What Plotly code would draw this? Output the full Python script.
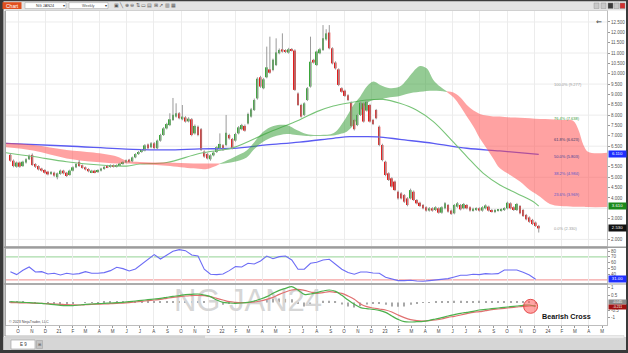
import numpy as np
import pandas as pd
import plotly.graph_objects as go

W, H = 628, 353
def px(x): return x / W
def py(y): return 1 - y / H

# ---------------- DATA ----------------
opens = [6.08, 5.80, 5.51, 5.71, 5.54, 5.71, 5.87, 6.08, 5.64, 5.54,
         5.42, 5.35, 5.27, 5.16, 5.22, 5.00, 5.16, 5.32, 5.22, 5.11,
         5.32, 5.48, 5.74, 5.58, 5.48, 5.40, 5.25, 5.32, 5.25, 5.32,
         5.40, 5.56, 5.50, 5.58, 5.51, 5.58, 5.64, 5.72, 5.85, 5.77,
         5.96, 6.12, 6.22, 6.29, 6.58, 6.45, 6.64, 6.40, 6.77, 7.04,
         7.36, 7.52, 7.77, 7.93, 8.09, 7.80, 7.89, 7.70, 7.80, 7.12,
         7.44, 7.32, 6.24, 6.12, 5.87, 6.06, 6.22, 6.40, 6.54, 6.56,
         7.04, 6.85, 6.77, 7.12, 7.32, 7.48, 7.60, 7.93, 8.25, 8.81,
         9.83, 9.30, 9.83, 10.21, 10.18, 10.42, 10.99, 11.18, 11.12, 11.02,
         11.18, 11.12, 9.05, 8.49, 8.01, 8.73, 9.38, 10.67, 10.42, 10.99,
         11.15, 11.66, 11.99, 11.23, 10.54, 10.21, 9.30, 9.18, 8.96, 8.60,
         7.77, 7.52, 8.01, 8.57, 8.22, 8.49, 7.77, 8.25, 7.44, 6.56,
         5.75, 5.19, 4.95, 4.79, 4.30, 4.22, 4.14, 3.98, 3.98, 4.30,
         3.90, 3.77, 3.66, 3.55, 3.39, 3.50, 3.42, 3.50, 3.29, 3.50,
         3.66, 3.39, 3.26, 3.58, 3.66, 3.50, 3.66, 3.55, 3.39, 3.42,
         3.50, 3.39, 3.50, 3.58, 3.42, 3.32, 3.39, 3.39, 3.42, 3.50,
         3.74, 3.55, 3.42, 3.61, 3.42, 3.18, 3.06, 2.94, 2.81, 2.65]
highs = [6.15, 5.86, 5.76, 5.76, 5.80, 5.92, 6.10, 6.15, 5.68, 5.58,
         5.46, 5.39, 5.31, 5.30, 5.27, 5.23, 5.37, 5.36, 5.26, 5.37,
         5.53, 5.69, 5.83, 5.62, 5.52, 5.44, 5.36, 5.36, 5.39, 5.46,
         5.54, 5.60, 5.62, 5.62, 5.63, 5.70, 5.78, 5.86, 5.89, 6.00,
         6.16, 6.27, 6.37, 6.60, 6.63, 6.70, 6.70, 6.82, 7.10, 7.42,
         7.63, 8.09, 8.83, 8.57, 8.15, 8.49, 7.95, 7.90, 7.86, 7.55,
         7.50, 7.38, 6.30, 6.18, 6.11, 6.25, 6.50, 7.12, 6.60, 8.01,
         7.10, 6.90, 7.15, 7.47, 7.58, 7.55, 8.12, 8.35, 8.80, 9.83,
         9.90, 9.80, 11.31, 11.79, 10.73, 11.71, 11.22, 11.95, 11.18, 11.25,
         11.24, 11.18, 9.10, 8.55, 8.62, 9.36, 11.79, 10.72, 11.12, 11.25,
         12.35, 12.15, 12.35, 11.28, 10.60, 10.26, 9.35, 9.23, 9.01, 8.66,
         7.82, 8.06, 8.66, 8.62, 8.71, 8.55, 7.82, 8.30, 7.50, 6.62,
         5.80, 5.24, 5.00, 4.84, 4.36, 4.28, 4.19, 4.04, 4.45, 4.36,
         3.95, 3.82, 3.71, 3.60, 3.56, 3.55, 3.60, 3.55, 3.60, 3.80,
         3.71, 3.44, 3.71, 3.80, 3.71, 3.76, 3.71, 3.60, 3.53, 3.55,
         3.55, 3.60, 3.69, 3.63, 3.47, 3.47, 3.47, 3.50, 3.55, 3.82,
         3.79, 3.60, 3.76, 3.66, 3.47, 3.23, 3.11, 2.99, 2.86, 2.70]
lows = [5.75, 5.48, 5.46, 5.46, 5.50, 5.66, 5.83, 5.55, 5.45, 5.33,
        5.27, 5.17, 5.09, 5.11, 5.02, 4.90, 5.12, 5.14, 5.01, 5.07,
        5.28, 5.44, 5.50, 5.41, 5.33, 5.24, 5.20, 5.19, 5.21, 5.28,
        5.36, 5.44, 5.46, 5.47, 5.47, 5.54, 5.60, 5.68, 5.70, 5.73,
        5.92, 6.08, 6.18, 6.25, 6.35, 6.40, 6.36, 6.36, 6.72, 7.00,
        7.31, 7.47, 7.72, 7.88, 7.80, 7.75, 7.64, 7.65, 6.98, 7.06,
        6.98, 6.27, 5.94, 5.86, 5.80, 6.01, 6.17, 6.35, 6.27, 6.50,
        6.82, 6.35, 6.72, 7.07, 7.27, 7.20, 7.55, 7.88, 8.20, 8.75,
        9.32, 9.25, 9.78, 10.00, 10.12, 10.37, 10.94, 11.02, 11.00, 10.97,
        11.07, 9.17, 8.44, 7.88, 7.95, 8.68, 9.33, 10.49, 10.37, 10.94,
        11.10, 11.60, 11.18, 10.45, 10.20, 9.40, 9.08, 8.88, 8.68, 7.42,
        7.26, 7.47, 7.96, 7.64, 8.17, 7.64, 7.52, 7.80, 6.50, 5.77,
        5.05, 4.82, 4.50, 4.33, 3.92, 3.93, 3.76, 3.60, 3.93, 3.85,
        3.69, 3.56, 3.45, 3.34, 3.34, 3.34, 3.37, 3.24, 3.24, 3.45,
        3.29, 3.18, 3.21, 3.53, 3.40, 3.45, 3.45, 3.34, 3.34, 3.37,
        3.34, 3.34, 3.45, 3.34, 3.29, 3.27, 3.34, 3.34, 3.37, 3.45,
        3.45, 3.37, 3.37, 3.21, 3.08, 2.92, 2.80, 2.69, 2.60, 2.33]
closes = [5.80, 5.54, 5.71, 5.51, 5.75, 5.87, 6.03, 5.59, 5.51, 5.38,
          5.32, 5.22, 5.14, 5.25, 5.08, 5.19, 5.32, 5.19, 5.06, 5.32,
          5.48, 5.64, 5.54, 5.45, 5.38, 5.29, 5.32, 5.24, 5.35, 5.42,
          5.50, 5.48, 5.58, 5.51, 5.59, 5.66, 5.74, 5.82, 5.74, 5.96,
          6.12, 6.22, 6.32, 6.54, 6.40, 6.64, 6.41, 6.77, 7.04, 7.36,
          7.57, 7.80, 8.02, 8.09, 7.85, 7.93, 7.69, 7.83, 7.04, 7.48,
          7.04, 6.32, 6.00, 5.91, 6.06, 6.19, 6.45, 6.61, 6.32, 7.15,
          6.88, 6.40, 7.09, 7.41, 7.52, 7.25, 8.06, 8.28, 8.73, 9.76,
          9.38, 9.73, 10.31, 10.05, 10.67, 11.03, 11.15, 11.07, 11.05, 11.18,
          11.12, 9.22, 8.49, 7.93, 8.57, 9.30, 10.58, 10.54, 11.07, 11.18,
          11.71, 11.95, 11.23, 10.50, 10.26, 9.46, 9.13, 8.93, 8.73, 7.48,
          7.32, 8.01, 8.60, 7.69, 8.65, 7.69, 7.57, 7.85, 6.56, 5.83,
          5.11, 4.87, 4.55, 4.38, 3.98, 3.98, 3.82, 3.66, 4.38, 3.90,
          3.74, 3.61, 3.50, 3.39, 3.50, 3.39, 3.55, 3.29, 3.55, 3.74,
          3.34, 3.23, 3.66, 3.74, 3.45, 3.71, 3.50, 3.39, 3.48, 3.50,
          3.39, 3.55, 3.64, 3.39, 3.34, 3.42, 3.42, 3.45, 3.50, 3.77,
          3.50, 3.42, 3.71, 3.26, 3.13, 2.97, 2.85, 2.74, 2.65, 2.53]
candle_dates = pd.date_range("2020-09-14", periods=len(opens), freq="7D")

# moving averages
sma_long_dates = ["2020-09-02", "2021-01-18", "2021-06-15", "2021-08-30", "2021-11-13", "2022-01-26",
                  "2022-04-10", "2022-06-23", "2022-09-07", "2022-10-14", "2022-11-21", "2022-12-28",
                  "2023-02-03", "2023-04-19", "2023-07-03", "2023-09-15", "2023-12-11"]
sma_long = [6.64, 6.51, 6.35, 6.32, 6.37, 6.40, 6.56, 6.70, 6.88, 6.96, 6.96, 6.93, 6.83, 6.64, 6.40, 6.27, 6.11]
sma_mid_dates = ["2020-09-02", "2020-11-04", "2021-01-18", "2021-04-03", "2021-06-01", "2021-07-01",
                 "2021-08-30", "2021-11-13", "2022-01-26", "2022-04-10", "2022-06-23", "2022-08-01",
                 "2022-09-07", "2022-10-14", "2022-11-21", "2022-12-28", "2023-02-03", "2023-03-12",
                 "2023-04-19", "2023-05-26", "2023-07-03", "2023-08-09", "2023-09-15", "2023-10-23",
                 "2023-11-29", "2023-12-11"]
sma_mid = [6.19, 6.00, 5.75, 5.59, 5.54, 5.64, 5.71, 6.16, 6.43, 7.12, 7.77, 8.17, 8.44, 8.60, 8.73,
           8.76, 8.57, 8.25, 7.69, 6.88, 6.00, 5.19, 4.63, 4.22, 3.82, 3.61]

# Ichimoku cloud segments
pink1_dates = ["2020-09-02", "2020-11-04", "2021-01-18", "2021-03-19", "2021-05-10", "2021-06-01",
               "2021-07-01", "2021-08-30", "2021-10-29", "2021-11-28", "2021-12-27"]
pink1_top = [6.67, 6.56, 6.32, 6.19, 6.00, 5.80, 5.74, 5.71, 5.67, 5.67, 5.67]
pink1_bot = [6.45, 6.29, 5.91, 5.75, 5.67, 5.67, 5.64, 5.56, 5.43, 5.40, 5.64]
green_dates = ["2021-12-27", "2022-01-26", "2022-02-25", "2022-03-12", "2022-04-03", "2022-04-26",
               "2022-05-26", "2022-06-17", "2022-07-09", "2022-08-01", "2022-09-07", "2022-09-22",
               "2022-10-07", "2022-10-22", "2022-11-06", "2022-11-21", "2022-12-06", "2022-12-21",
               "2023-01-12", "2023-02-03", "2023-02-18", "2023-03-05", "2023-03-20", "2023-04-04",
               "2023-04-19", "2023-05-04", "2023-05-19"]
green_top = [5.67, 5.96, 6.29, 6.64, 7.20, 7.48, 7.52, 7.28, 7.09, 7.04, 7.12, 7.44, 7.93, 8.49,
             8.89, 9.38, 9.62, 9.46, 9.30, 9.38, 9.70, 10.10, 10.37, 10.26, 9.70, 9.38, 9.15]
green_bot = [5.64, 5.74, 5.96, 6.32, 6.72, 6.96, 7.09, 7.04, 6.99, 6.99, 7.02, 7.09, 7.20, 7.52,
             8.17, 8.57, 8.73, 8.76, 8.86, 8.93, 9.02, 9.09, 9.13, 9.17, 9.18, 9.17, 9.12]
pink2_dates = ["2023-05-19", "2023-06-03", "2023-06-18", "2023-07-03", "2023-07-18", "2023-08-01",
               "2023-08-16", "2023-08-31", "2023-09-15", "2023-10-08", "2023-10-30", "2023-11-21",
               "2023-12-14", "2024-01-05", "2024-01-28", "2024-02-26", "2024-03-09", "2024-03-20",
               "2024-03-31", "2024-05-15"]
pink2_top = [9.15, 9.09, 8.86, 8.49, 8.22, 8.06, 7.98, 7.94, 7.93, 7.89, 7.88, 7.85, 7.81, 7.80,
             7.77, 7.73, 7.28, 6.56, 6.22, 6.19]
pink2_bot = [9.12, 8.86, 8.44, 7.93, 7.44, 6.88, 6.40, 5.91, 5.43, 5.11, 4.79, 4.38, 4.06, 3.71,
             3.61, 3.58, 3.58, 3.58, 3.56, 3.56]

# Indicators sampled every 2 weeks
rsi = [44.2, 39.0, 46.5, 52.3, 43.6, 44.2, 40.1, 41.3, 38.4, 41.3,
       39.6, 40.7, 44.2, 41.3, 41.3, 42.5, 45.9, 51.7, 49.4, 45.4,
       48.8, 57.0, 66.8, 73.8, 66.2, 72.6, 79.6, 82.5, 80.7, 73.2,
       71.4, 48.3, 39.6, 39.0, 40.1, 45.9, 52.9, 52.3, 58.7, 57.5,
       62.8, 71.4, 66.8, 70.3, 71.4, 64.5, 48.3, 48.3, 58.7, 60.4,
       64.5, 65.7, 57.5, 48.3, 42.5, 39.6, 43.6, 43.6, 41.9, 41.3,
       34.3, 30.9, 28.6, 28.6, 29.1, 28.0, 27.4, 28.6, 29.7, 30.3,
       32.0, 34.9, 37.8, 37.8, 39.6, 39.0, 40.7, 40.1, 40.7, 47.1,
       46.5, 47.1, 43.0, 38.4, 31.0]
macd = [0.056, 0.033, 0.011, -0.011, -0.033, -0.056, -0.100, -0.144, -0.189, -0.211,
        -0.211, -0.167, -0.122, -0.100, -0.078, -0.056, -0.033, -0.011, 0.011, 0.056,
        0.100, 0.144, 0.189, 0.233, 0.278, 0.344, 0.411, 0.456, 0.522, 0.544,
        0.567, 0.500, 0.389, 0.167, 0.011, -0.033, -0.056, -0.033, 0.011, 0.100,
        0.233, 0.389, 0.611, 0.811, 0.944, 1.056, 0.833, 0.544, 0.567, 0.656,
        0.767, 0.833, 0.744, 0.478, 0.167, -0.122, -0.344, -0.411, -0.456, -0.522,
        -0.656, -0.900, -1.122, -1.278, -1.300, -1.278, -1.256, -1.189, -1.100, -1.011,
        -0.900, -0.811, -0.722, -0.656, -0.589, -0.500, -0.456, -0.411, -0.367, -0.322,
        -0.278, -0.233, -0.189, -0.167, -0.256]
macd_avg = [-0.011, -0.011, -0.033, -0.033, -0.056, -0.056, -0.078, -0.100, -0.122, -0.144,
            -0.156, -0.167, -0.144, -0.122, -0.111, -0.100, -0.078, -0.056, -0.044, -0.011,
            0.033, 0.078, 0.122, 0.167, 0.211, 0.278, 0.344, 0.389, 0.433, 0.456,
            0.478, 0.456, 0.389, 0.278, 0.167, 0.056, 0.011, -0.011, -0.011, 0.033,
            0.100, 0.211, 0.344, 0.544, 0.700, 0.833, 0.878, 0.811, 0.700, 0.611,
            0.656, 0.722, 0.678, 0.611, 0.433, 0.211, -0.100, -0.278, -0.367, -0.433,
            -0.500, -0.633, -0.833, -1.011, -1.144, -1.211, -1.233, -1.211, -1.167, -1.100,
            -0.989, -0.922, -0.833, -0.744, -0.656, -0.611, -0.544, -0.478, -0.433, -0.389,
            -0.344, -0.300, -0.256, -0.233, -0.211]
ind_dates = candle_dates[::2][:len(rsi)]

fib_low, fib_high = 2.330, 9.277
fib_levels = [100.0, 76.4, 61.8, 50.0, 38.2, 23.6, 0.0]
fib_colors = ["#9a9a9a", "#3a9a3a", "#3a3a6a", "#40409a", "#5555cc", "#5555cc", "#9a9a9a"]

month_dates = pd.date_range("2020-10-01", "2024-05-01", freq="MS")
month_labels = ["O", "N", "D", "21", "F", "M", "A", "M", "J", "J", "A", "S", "O", "N", "D",
                "22", "F", "M", "A", "M", "J", "J", "A", "S", "O", "N", "D",
                "23", "F", "M", "A", "M", "J", "J", "A", "S", "O", "N", "D",
                "24", "F", "M", "A", "M"]
# price labels visible on the axis (those under the value flags are hidden in the reference)
price_ticks = [2.0, 3.0, 4.0, 4.5, 5.0, 5.5, 6.5, 7.0, 7.5, 8.0, 8.5, 9.0,
               9.5, 10.0, 10.5, 11.0, 11.5, 12.0, 12.5]
price_grid = [2.0, 3.5, 5.0, 6.5, 8.0, 9.5, 11.0, 12.5]
rsi_ticks = [40, 50, 60, 70, 80]
macd_ticks = [-1, -0.5, 0.5, 1]
macd_ticktext = ["-1", "-0.5", "0.5", "1"]

# ---------------- FIGURE ----------------
GREEN_C = "#3aa63a"
RED_C = "#e41c1c"
fig = go.Figure()

fig.add_trace(go.Scatter(x=sma_long_dates, y=sma_long, mode="lines", line=dict(color="#5b5bf2", width=1.3, shape="spline"),
                         xaxis="x", yaxis="y", hoverinfo="skip"))
fig.add_trace(go.Scatter(x=sma_mid_dates, y=sma_mid, mode="lines", line=dict(color="#78c478", width=1.1, shape="spline"),
                         xaxis="x", yaxis="y", hoverinfo="skip"))

def cloud(dates, top, bot, color):
    fig.add_trace(go.Scatter(x=dates, y=bot, mode="lines", line=dict(width=0, shape="spline"),
                             xaxis="x", yaxis="y", hoverinfo="skip"))
    fig.add_trace(go.Scatter(x=dates, y=top, mode="lines", line=dict(width=0, shape="spline"), fill="tonexty",
                             fillcolor=color, xaxis="x", yaxis="y", hoverinfo="skip"))

cloud(pink1_dates, pink1_top, pink1_bot, "rgba(255,70,70,0.5)")
cloud(green_dates, green_top, green_bot, "rgba(60,160,60,0.55)")
cloud(pink2_dates, pink2_top, pink2_bot, "rgba(255,70,70,0.5)")

wx, wy = [], []
for d, lo, hi in zip(candle_dates, lows, highs):
    wx += [d, d, None]
    wy += [lo, hi, None]
fig.add_trace(go.Scatter(x=wx, y=wy, mode="lines", line=dict(color="#9a9a9a", width=1),
                         xaxis="x", yaxis="y", hoverinfo="skip"))
o = np.array(opens); c = np.array(closes)
fig.add_trace(go.Bar(x=candle_dates, base=np.minimum(o, c), y=np.abs(c - o),
                     marker=dict(color=[GREEN_C if cc >= oo else RED_C for oo, cc in zip(o, c)], line=dict(width=0)),
                     width=4.3 * 86400000, xaxis="x", yaxis="y", hoverinfo="skip"))

fig.add_trace(go.Scatter(x=ind_dates, y=rsi, mode="lines", line=dict(color="#6c6cf5", width=1.1),
                         xaxis="x2", yaxis="y2", hoverinfo="skip"))

fig.add_trace(go.Scatter(x=["2022-02-28"], y=[-0.05], mode="text", text=["NG JAN24"],
                         textfont=dict(size=31, color="#d6d6d6", family="Liberation Sans, Arial"),
                         xaxis="x3", yaxis="y3", hoverinfo="skip"))
hist = np.array(macd) - np.array(macd_avg)
fig.add_trace(go.Bar(x=ind_dates, y=hist, marker=dict(color="#a8a8a8", line=dict(width=0)),
                     width=2.5 * 86400000, xaxis="x3", yaxis="y3", hoverinfo="skip"))
fig.add_trace(go.Scatter(x=ind_dates, y=macd_avg, mode="lines", line=dict(color="#e07070", width=1.2, shape="spline"),
                         xaxis="x3", yaxis="y3", hoverinfo="skip"))
fig.add_trace(go.Scatter(x=ind_dates, y=macd, mode="lines", line=dict(color="#4cb04c", width=1.2, shape="spline"),
                         xaxis="x3", yaxis="y3", hoverinfo="skip"))

xr = ["2020-09-04 03:00", "2024-05-11 20:00"]
xdom = [px(6), px(607)]
AX_LINE = "#bdbdbd"
tickfont = dict(size=4.5, color="#555555")
common_x = dict(domain=xdom, range=xr, type="date", showgrid=False, zeroline=False,
                showline=True, mirror=True, linecolor=AX_LINE, linewidth=1,
                minor=dict(dtick="M2", tick0="2020-10-01", showgrid=True, gridcolor="#ececec", gridwidth=1))
common_y = dict(side="right", showgrid=False, zeroline=False, showline=True, mirror=True,
                linecolor=AX_LINE, linewidth=1, ticks="outside", ticklen=2, tickcolor="#999999",
                tickfont=tickfont)

fig.update_layout(
    width=W, height=H, margin=dict(l=0, r=0, t=0, b=0),
    paper_bgcolor="white", plot_bgcolor="white", showlegend=False, barmode="overlay",
    font=dict(family="Liberation Sans, Arial, sans-serif"),
    xaxis=dict(**common_x, anchor="y", showticklabels=False),
    yaxis=dict(**common_y, domain=[py(246), py(11)], range=[1.68, 13.03], anchor="x",
               tickvals=price_ticks, tickformat=".3f"),
    xaxis2=dict(**common_x, anchor="y2", showticklabels=False),
    yaxis2=dict(**common_y, domain=[py(283), py(249)], range=[24.4, 83.6], anchor="x2",
                tickvals=rsi_ticks),
    xaxis3=dict(**common_x, anchor="y3", showticklabels=True, tickvals=month_dates, ticktext=month_labels,
                tickfont=dict(size=4.5, color="#444444"), ticks="outside", ticklen=2, tickcolor="#999999"),
    yaxis3=dict(**common_y, domain=[py(325), py(285)], range=[-1.5, 1.167], anchor="x3",
                tickvals=macd_ticks, ticktext=macd_ticktext),
)

shapes = []
ann = []
for g in price_grid:
    shapes.append(dict(type="line", xref="x domain", yref="y", x0=0, x1=1, y0=g, y1=g,
                       line=dict(color="#ececec", width=1), layer="below"))
shapes.append(dict(type="line", xref="x2 domain", yref="y2", x0=0, x1=1, y0=70, y1=70,
                   line=dict(color="#a9dba9", width=1.2), layer="below"))
shapes.append(dict(type="line", xref="x2 domain", yref="y2", x0=0, x1=1, y0=30, y1=30,
                   line=dict(color="#f4a3a3", width=1.2), layer="below"))

def rect(x0, y0, x1, y1, fill, line=None, lw=0, layer="above"):
    shapes.append(dict(type="rect", xref="paper", yref="paper", x0=px(x0), x1=px(x1), y0=py(y1), y1=py(y0),
                       fillcolor=fill, line=dict(color=line or fill, width=lw), layer=layer))

rect(0, 0, 628, 10.5, "#e3e3e3")
rect(0, 0, 628, 1.2, "#3c3c3c")
rect(0, 0, 3.5, 353, "#3a3a3a")
rect(626, 0, 628, 353, "#3a3a3a")
rect(0, 350, 628, 353, "#3a3a3a")
rect(3.5, 337, 626, 350, "#d6d6d6")
rect(5, 335.5, 624, 338.5, "#ececec", "#cfcfcf", 0.5)
rect(5, 335.5, 205, 338.5, "#d3d3d3")
rect(11, 340, 35, 349, "white", "#9a9a9a", 0.6)
rect(36.5, 340.5, 42.5, 348.5, "#c4c4c4", "#9a9a9a", 0.5)
rect(2.5, 2.2, 21.5, 9, "#e0501f")
rect(25, 2.6, 66, 8.6, "white", "#9a9a9a", 0.5)
rect(69, 2.6, 108, 8.6, "white", "#9a9a9a", 0.5)
for bx, col in [(594, "#c8c8c8"), (601, "#c8c8c8"), (608, "#3a3a3a"), (614, "#c8c8c8"), (620, "#d03030")]:
    rect(bx, 3, bx + 5, 8.5, col, "#888888", 0.4)
shapes.append(dict(type="line", xref="paper", yref="paper", x0=px(3.5), x1=px(626), y0=py(247.3), y1=py(247.3),
                   line=dict(color="#9c9c9c", width=1.4)))
shapes.append(dict(type="line", xref="paper", yref="paper", x0=px(3.5), x1=px(626), y0=py(284), y1=py(284),
                   line=dict(color="#9c9c9c", width=1.2)))
shapes.append(dict(type="line", xref="paper", yref="paper", x0=px(5), x1=px(5), y0=py(336), y1=py(11),
                   line=dict(color="#8a8a8a", width=1)))
shapes.append(dict(type="circle", xref="x3", yref="y3", xsizemode="pixel", ysizemode="pixel",
                   xanchor=ind_dates[-1], yanchor=macd[-1], x0=-12, x1=2, y0=-7, y1=7,
                   fillcolor="rgba(255,90,90,0.55)", line=dict(color="rgba(225,60,60,0.9)", width=1)))

def text(x, y, s, size=4.5, color="#333", xanchor="left", yanchor="middle", **kw):
    ann.append(dict(x=px(x), y=py(y), xref="paper", yref="paper", text=s, showarrow=False,
                    font=dict(size=size, color=color), xanchor=xanchor, yanchor=yanchor, **kw))

text(12, 5.6, "Chart", 5, "white", "center")
text(45, 5.6, "NG JAN24", 3.8, "#333", "center")
text(64, 5.6, "▾", 4, "#333", "center")
text(88, 5.6, "Weekly", 3.8, "#555", "center")
text(106, 5.6, "▾", 4, "#333", "center")
text(112, 5.6, "▣ ╲ ⊕ ⊖ ⇅ ▭ ▤ ⊞ ↗ ▥ ▦", 5, "#555")
text(599, 21, "⇐", 7, "#333", "center")
text(23, 344.5, "E 9", 4.5, "#333", "center")
text(39.5, 344.5, "⊞", 4, "#555", "center")
text(7, 321.5, "© 2023 NinjaTrader, LLC", 3.6, "#444")
text(566, 316, "<b>Bearish Cross</b>", 7.2, "#111", "center")

for lvl, col in zip(fib_levels, fib_colors):
    val = fib_low + (fib_high - fib_low) * lvl / 100
    ann.append(dict(x="2024-01-09", y=val, xref="x", yref="y", text=f"{lvl:.1f}% ({val:.3f})",
                    showarrow=False, font=dict(size=4, color=col), xanchor="left", yanchor="bottom"))

def flag(yref, val, s, bg, shift=0, h=5.5, fs=4.3):
    ann.append(dict(x=px(607.5), y=val, xref="paper", yref=yref, text=s, showarrow=False,
                    font=dict(size=fs, color="white"), bgcolor=bg, xanchor="left", yanchor="middle",
                    width=17, height=h, borderpad=0, yshift=shift))

flag("y", sma_long[-1], f"{sma_long[-1]:.3f}", "#1f2fff")
flag("y", sma_mid[-1], f"{sma_mid[-1]:.3f}", "#1b8a1b")
flag("y", closes[-1], f"{closes[-1]:.3f}", "#111111")
flag("y2", rsi[-1], f"{rsi[-1]:.2f}", "#2030ff")
flag("y3", float(hist[-1]), f"{hist[-1]:.3f}", "#8a8a8a", shift=1.0, h=3.6, fs=3.4)
flag("y3", macd_avg[-1], f"{macd_avg[-1]:.3f}", "#a01010", shift=-1.0, h=3.6, fs=3.4)

fig.update_layout(shapes=shapes, annotations=ann)
fig.write_html("out.html")
